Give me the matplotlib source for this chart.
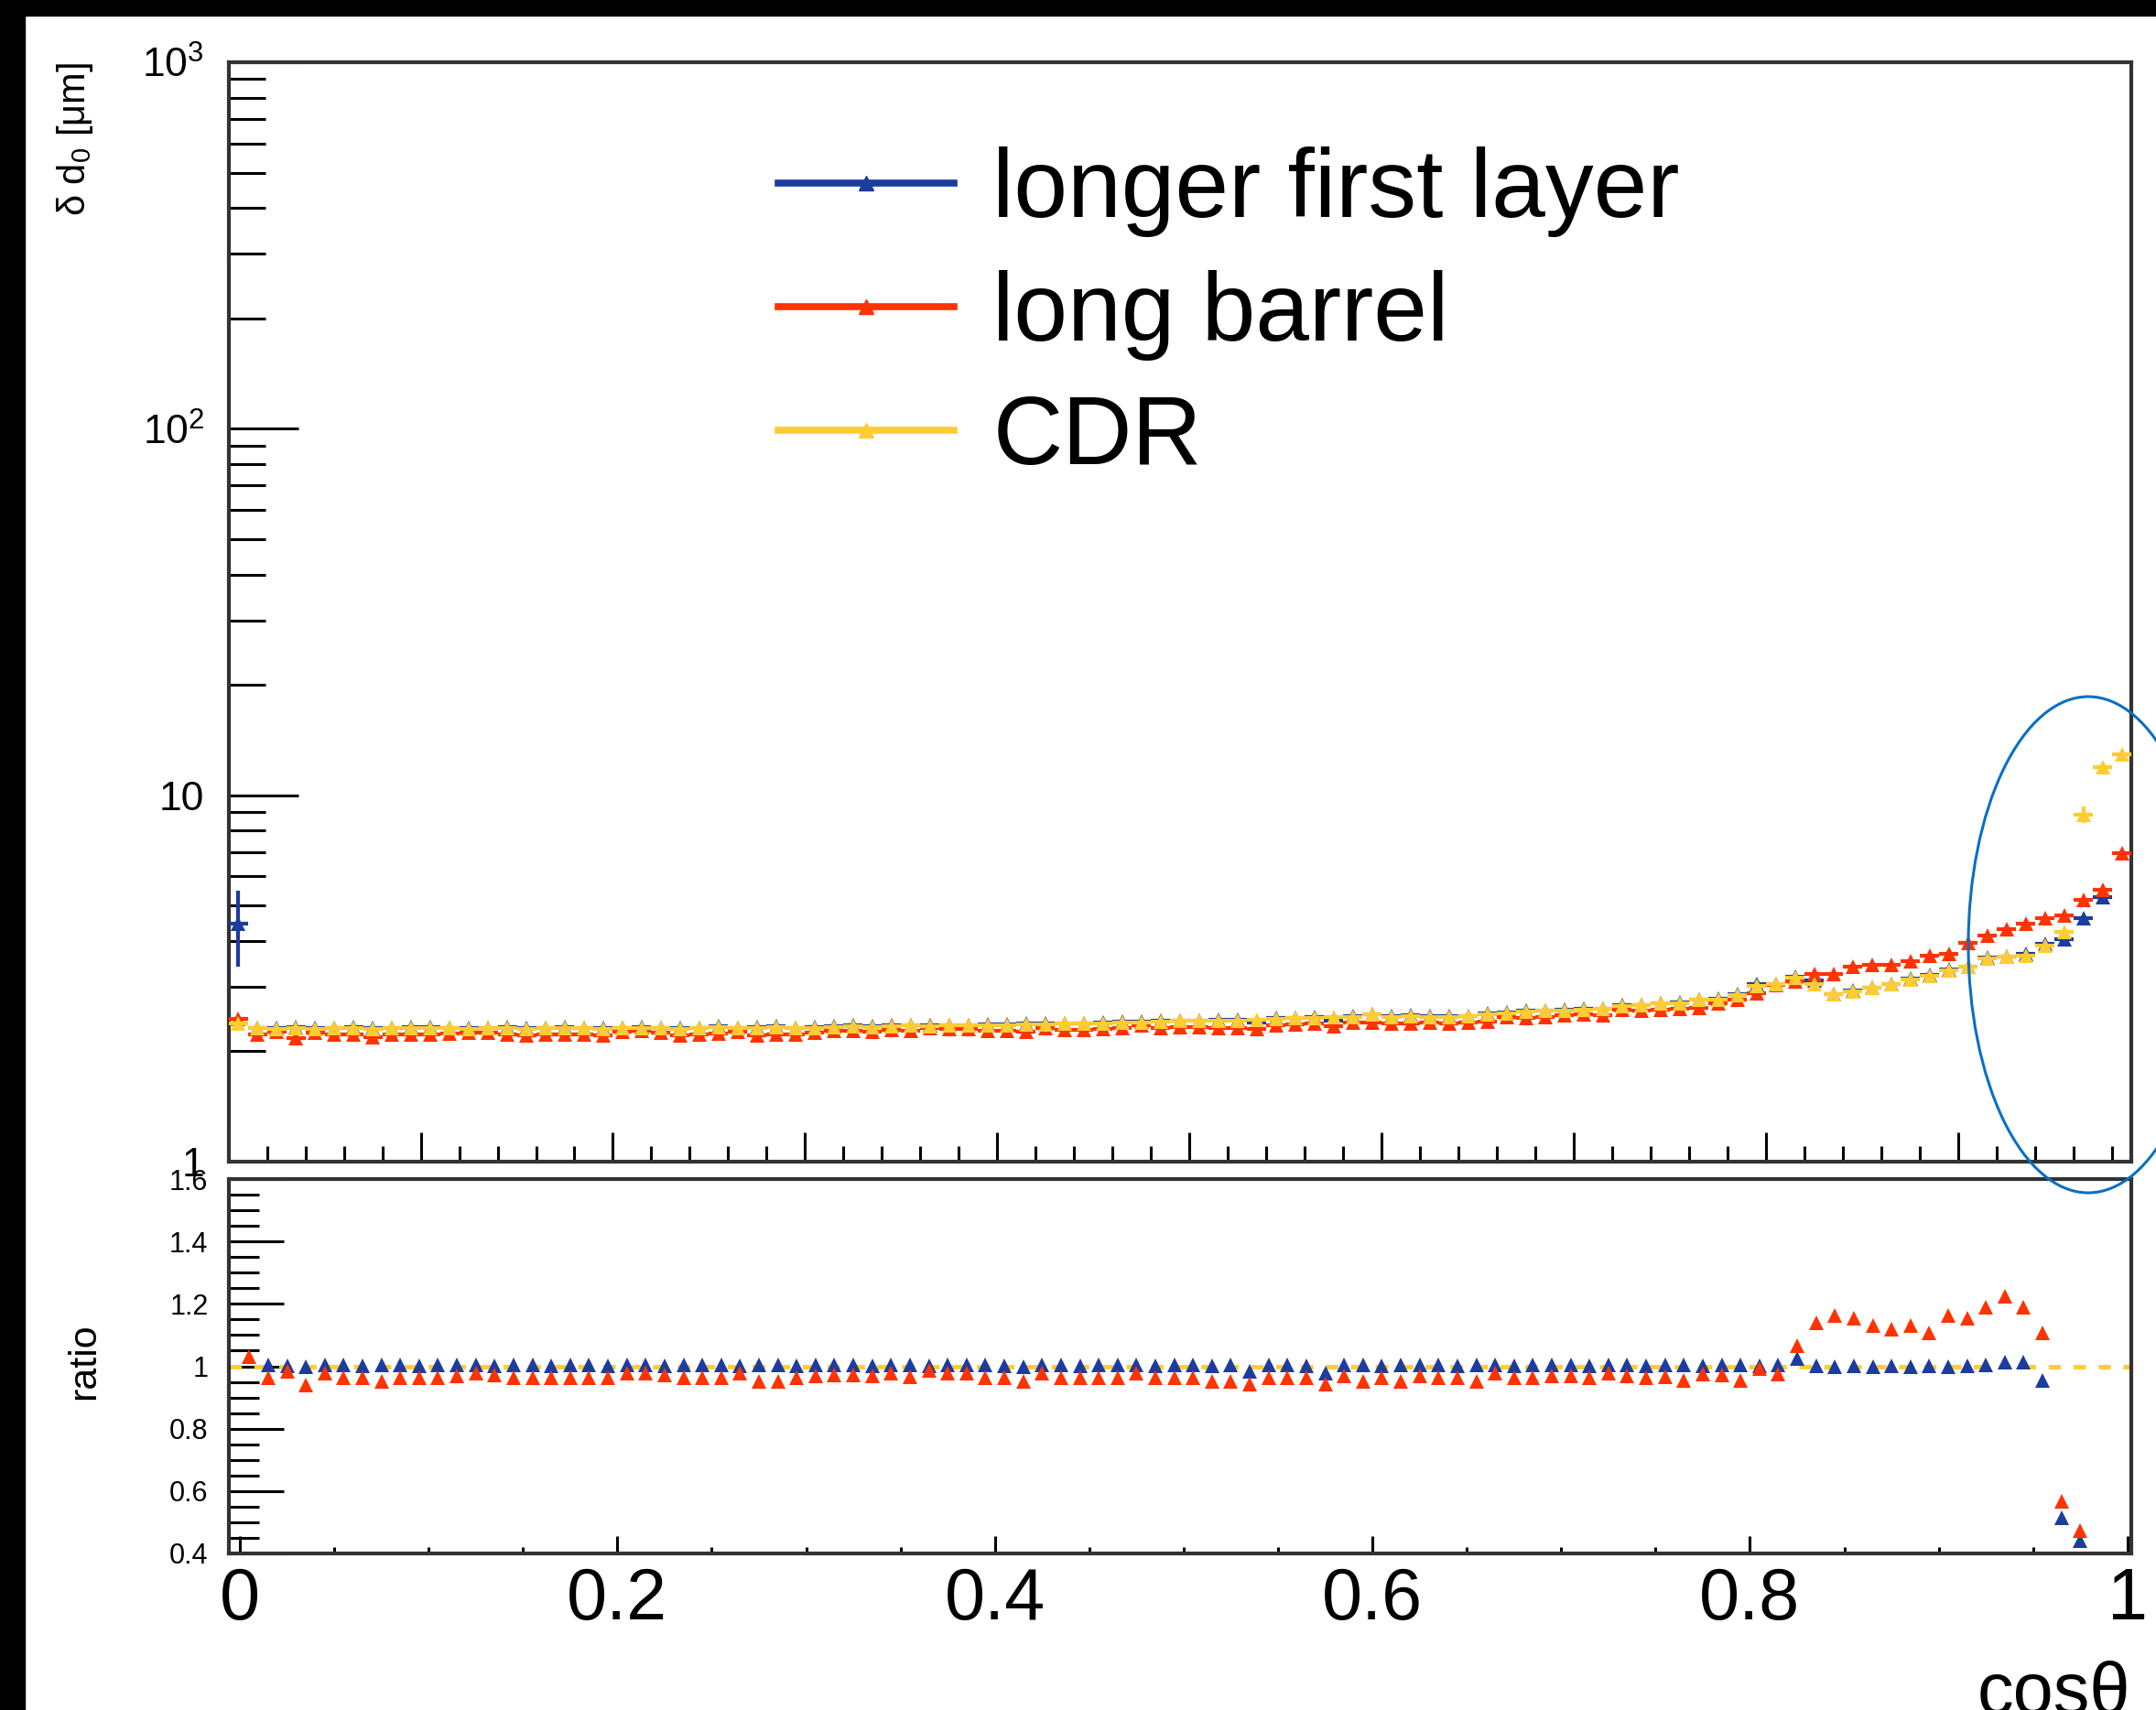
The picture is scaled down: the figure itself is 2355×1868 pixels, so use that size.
import numpy as np
import matplotlib
matplotlib.use("Agg")
import matplotlib.pyplot as plt
from matplotlib.lines import Line2D
from matplotlib.patches import Ellipse, Rectangle
from matplotlib.ticker import MultipleLocator, LogLocator, NullFormatter, FixedLocator, FixedFormatter

plt.rcParams['font.family'] = ['Liberation Sans', 'DejaVu Sans']
plt.rcParams['mathtext.fontset'] = 'custom'
plt.rcParams['mathtext.rm'] = 'Liberation Sans'
plt.rcParams['mathtext.it'] = 'Liberation Sans:italic'

BLUE = '#1c3c9e'
RED = '#ff3300'
YELLOW = '#ffcc33'

bin_width = 0.01

# delta d0 [um] per cos(theta) bin, 99 bins from 0 to 0.99
cdr = [2.38,
       2.31, 2.30, 2.32, 2.30, 2.31, 2.32, 2.30, 2.31, 2.32,
       2.32, 2.31, 2.30, 2.31, 2.32, 2.30, 2.31, 2.32, 2.31, 2.30,
       2.31, 2.32, 2.31, 2.30, 2.31, 2.33, 2.31, 2.32, 2.33, 2.31,
       2.32, 2.33, 2.34, 2.33, 2.34, 2.35, 2.34, 2.35, 2.35, 2.36,
       2.36, 2.37, 2.37, 2.38, 2.38, 2.39, 2.40, 2.40, 2.41, 2.42,
       2.42, 2.43, 2.43, 2.44, 2.45, 2.46, 2.47, 2.48, 2.48,
       2.52, 2.48, 2.50, 2.48, 2.48, 2.49, 2.53, 2.54, 2.57, 2.58,
       2.59, 2.60, 2.61, 2.66, 2.67,
       2.70, 2.71, 2.76, 2.77, 2.85, 3.02, 3.05, 3.18, 3.05, 2.86,
       2.92, 2.98, 3.05, 3.15, 3.22, 3.33, 3.40, 3.59, 3.62, 3.64,
       3.88, 4.24, 8.86, 11.9, 12.9]

long_barrel = [2.45,
               2.22, 2.26, 2.18, 2.25, 2.22, 2.23, 2.19, 2.22, 2.23,
               2.23, 2.24, 2.25, 2.25, 2.23, 2.21, 2.22, 2.23, 2.22, 2.21,
               2.26, 2.27, 2.25, 2.21, 2.22, 2.24, 2.26, 2.21, 2.22, 2.22,
               2.25, 2.27, 2.28, 2.26, 2.29, 2.27, 2.31, 2.30, 2.30, 2.27,
               2.27, 2.26, 2.32, 2.29, 2.29, 2.30, 2.31, 2.35, 2.32, 2.33,
               2.33, 2.32, 2.32, 2.30, 2.36, 2.37, 2.38, 2.34, 2.40,
               2.40, 2.39, 2.38, 2.40, 2.39, 2.40, 2.41, 2.48, 2.47, 2.48,
               2.51, 2.52, 2.51, 2.60, 2.58,
               2.60, 2.62, 2.63, 2.70, 2.77, 2.88, 3.03, 3.10, 3.25, 3.26,
               3.40, 3.44, 3.45, 3.52, 3.64, 3.68, 3.95, 4.14, 4.30, 4.45,
               4.61, 4.69, 5.17, 5.52, 6.96]

longer_first = [4.45,
                2.32, 2.31, 2.33, 2.31, 2.32, 2.33, 2.31, 2.32, 2.33,
                2.33, 2.32, 2.31, 2.32, 2.33, 2.31, 2.32, 2.33, 2.32, 2.31,
                2.32, 2.33, 2.32, 2.31, 2.32, 2.34, 2.32, 2.33, 2.34, 2.32,
                2.33, 2.34, 2.35, 2.34, 2.35, 2.36, 2.35, 2.36, 2.36, 2.37,
                2.37, 2.38, 2.38, 2.39, 2.39, 2.40, 2.41, 2.41, 2.42, 2.43,
                2.43, 2.44, 2.44, 2.40, 2.46, 2.47, 2.48, 2.43, 2.49,
                2.53, 2.49, 2.51, 2.49, 2.49, 2.50, 2.54, 2.55, 2.58, 2.59,
                2.60, 2.61, 2.62, 2.67, 2.68,
                2.71, 2.72, 2.77, 2.78, 2.86, 3.06, 3.06, 3.19, 3.12, 2.87,
                2.93, 2.99, 3.06, 3.16, 3.23, 3.34, 3.41, 3.60, 3.63, 3.69,
                3.93, 4.05, 4.63, 5.28, float('nan')]

# ratio to CDR, 98 bins
ratio_long_barrel = [1.03,
                     0.963, 0.983, 0.939, 0.978, 0.963, 0.963, 0.953, 0.963, 0.963,
                     0.963, 0.968, 0.978, 0.973, 0.963, 0.963, 0.963, 0.963, 0.963, 0.963,
                     0.978, 0.978, 0.973, 0.963, 0.963, 0.963, 0.978, 0.953, 0.953, 0.963,
                     0.968, 0.973, 0.973, 0.968, 0.978, 0.965, 0.988, 0.978, 0.978, 0.963,
                     0.963, 0.953, 0.978, 0.963, 0.963, 0.963, 0.963, 0.978, 0.963, 0.963,
                     0.963, 0.953, 0.953, 0.944, 0.963, 0.963, 0.963, 0.944, 0.968, 0.953,
                     0.963, 0.953, 0.968, 0.963, 0.963, 0.953, 0.978, 0.963, 0.963, 0.968,
                     0.968, 0.963, 0.978, 0.968, 0.963, 0.965, 0.954, 0.976, 0.971, 0.954,
                     0.992, 0.976, 1.066, 1.140, 1.164, 1.153, 1.130, 1.119, 1.130, 1.106,
                     1.162, 1.153, 1.188, 1.223, 1.188, 1.106, 0.567, 0.472]

ratio_longer_first = [float('nan'),
                      1.004, 1.002, 0.998, 1.003, 1.005, 1.002, 1.004, 1.003, 1.001,
                      1.004, 1.003, 1.005, 1.002, 1.004, 1.003, 1.002, 1.005, 1.003, 1.001,
                      1.004, 1.003, 1.002, 1.004, 1.005, 1.003, 1.002, 1.004, 1.003, 1.002,
                      1.004, 1.003, 1.005, 1.002, 1.004, 1.003, 1.002, 1.004, 1.003, 1.005,
                      1.002, 0.998, 1.004, 1.003, 1.002, 1.004, 1.005, 1.003, 1.002, 1.004,
                      1.003, 1.002, 1.004, 0.983, 1.003, 1.004, 1.002, 0.978, 1.004, 1.003,
                      1.002, 1.004, 1.003, 1.005, 1.002, 1.004, 1.003, 1.002, 1.004, 1.003,
                      1.005, 1.002, 1.004, 1.003, 1.002, 1.004, 1.003, 1.002, 1.004, 1.003,
                      1.002, 1.004, 1.024, 1.001, 1.000, 1.002, 1.000, 1.001, 1.000, 1.002,
                      1.000, 1.001, 1.004, 1.013, 1.013, 0.954, 0.514, 0.441]

labels = ['longer first layer', 'long barrel', 'CDR']
ratio_ticks = [0.4, 0.6, 0.8, 1.0, 1.2, 1.4, 1.6]
ratio_ticklabels = ['0.4', '0.6', '0.8', '1', '1.2', '1.4', '1.6']
x_ticks = [0, 0.2, 0.4, 0.6, 0.8, 1.0]
x_ticklabels = ['0', '0.2', '0.4', '0.6', '0.8', '1']

x_up = np.arange(len(cdr)) * bin_width + bin_width / 2
x_lo = np.arange(len(ratio_long_barrel)) * bin_width + bin_width / 2

blue_err = np.zeros(len(longer_first))
blue_err[0] = 1.05
cdr_err = np.zeros(len(cdr))
cdr_err[96] = 0.45

W, H = 2355, 1868
fig = plt.figure(figsize=(W / 100, H / 100), dpi=100)
ax = fig.add_axes([249.6 / W, 1 - 1269 / H, (2328 - 249.6) / W, (1269 - 68) / H])
ax2 = fig.add_axes([249.6 / W, 1 - 1697 / H, (2328 - 249.6) / W, (1697 - 1288) / H])

MS = 11
pt = dict(fmt='^', ms=MS, elinewidth=3, capsize=0, mew=0)
ax.errorbar(x_up, longer_first, xerr=bin_width / 2, yerr=blue_err, color=BLUE, zorder=3, **pt)
ax.errorbar(x_up, long_barrel, xerr=bin_width / 2, color=RED, zorder=4, **pt)
ax.errorbar(x_up, cdr, xerr=bin_width / 2, yerr=cdr_err, color=YELLOW, zorder=5, **pt)

ax.set_yscale('log')
ax.set_ylim(1, 1000)
ax.set_xlim(0, 0.99)
ax.yaxis.set_major_locator(FixedLocator([1, 10, 100, 1000]))
ax.yaxis.set_major_formatter(FixedFormatter(['1', '10', r'$10^{2}$', r'$10^{3}$']))
ax.yaxis.set_minor_locator(LogLocator(base=10, subs=np.arange(2, 10)))
ax.yaxis.set_minor_formatter(NullFormatter())
ax.xaxis.set_major_locator(MultipleLocator(0.1))
ax.xaxis.set_minor_locator(MultipleLocator(0.02))
ax.tick_params(axis='y', which='major', direction='in', length=55, width=2.2,
               left=True, right=False, labelsize=32, pad=19)
ax.tick_params(axis='y', which='minor', direction='in', length=29, width=2.2, left=True, right=False)
ax.tick_params(axis='x', which='major', direction='in', length=23, width=2.2,
               bottom=True, top=False, labelbottom=False)
ax.tick_params(axis='x', which='minor', direction='in', length=12, width=2.2, bottom=True, top=False)

handles = [Line2D([], [], color=c, lw=5.5, marker='^', ms=MS) for c in (BLUE, RED, YELLOW)]
ax.legend(handles, labels, loc='upper left', bbox_to_anchor=(850 / W, 1 - 160 / H),
          bbox_transform=fig.transFigure, frameon=False, fontsize=76,
          handlelength=1.82, handletextpad=0.40, labelspacing=0.34,
          borderpad=0, borderaxespad=0)

# ratio panel
ax2.axhline(1.0, color=YELLOW, lw=3.5, ls=(0, (2.8, 2.8)), zorder=2)
ax2.plot(x_lo, ratio_longer_first, '^', ms=MS, mew=0, color=BLUE, zorder=3)
ax2.plot(x_lo, ratio_long_barrel, '^', ms=MS, mew=0, color=RED, zorder=4)
ax2.set_ylim(0.4, 1.6)
ax2.set_xlim(-0.006, 1.002)
ax2.set_yticks(ratio_ticks)
ax2.set_yticklabels(ratio_ticklabels)
ax2.yaxis.set_minor_locator(MultipleLocator(0.05))
ax2.set_xticks(x_ticks)
ax2.set_xticklabels(x_ticklabels)
ax2.xaxis.set_minor_locator(MultipleLocator(0.05))
ax2.tick_params(axis='y', which='major', direction='in', length=43, width=2.2,
                left=True, right=False, labelsize=22, pad=16)
ax2.tick_params(axis='y', which='minor', direction='in', length=24, width=2.2, left=True, right=False)
ax2.tick_params(axis='x', which='major', direction='in', length=14, width=2.2,
                bottom=True, top=False, labelsize=57, pad=10)
ax2.tick_params(axis='x', which='minor', direction='in', length=5, width=2.2, bottom=True, top=False)

for a in (ax, ax2):
    for s in a.spines.values():
        s.set_linewidth(3)
        s.set_color('#333333')

fig.text(82 / W, 1 - 68 / H, 'δ d$_{0}$ [μm]', rotation=90,
         ha='center', va='top', fontsize=30)
fig.text(92 / W, 1 - 1487 / H, 'ratio', rotation=90, ha='center', va='center', fontsize=31)
fig.text(2327 / W, -0.002, 'cosθ', ha='right', va='baseline', fontsize=57)

# black border strips and blue highlight ellipse
fig.add_artist(Rectangle((0, 0), 27 / W, 1, transform=fig.transFigure, color='black'))
fig.add_artist(Rectangle((0, 1 - 17 / H), 1, 17 / H, transform=fig.transFigure, color='black'))
fig.add_artist(Ellipse((2281 / W, 1 - 1032 / H), 262 / W, 542 / H, transform=fig.transFigure,
                       fill=False, edgecolor='#0a6fc2', lw=2.2))

fig.savefig('out.png', dpi=100)
